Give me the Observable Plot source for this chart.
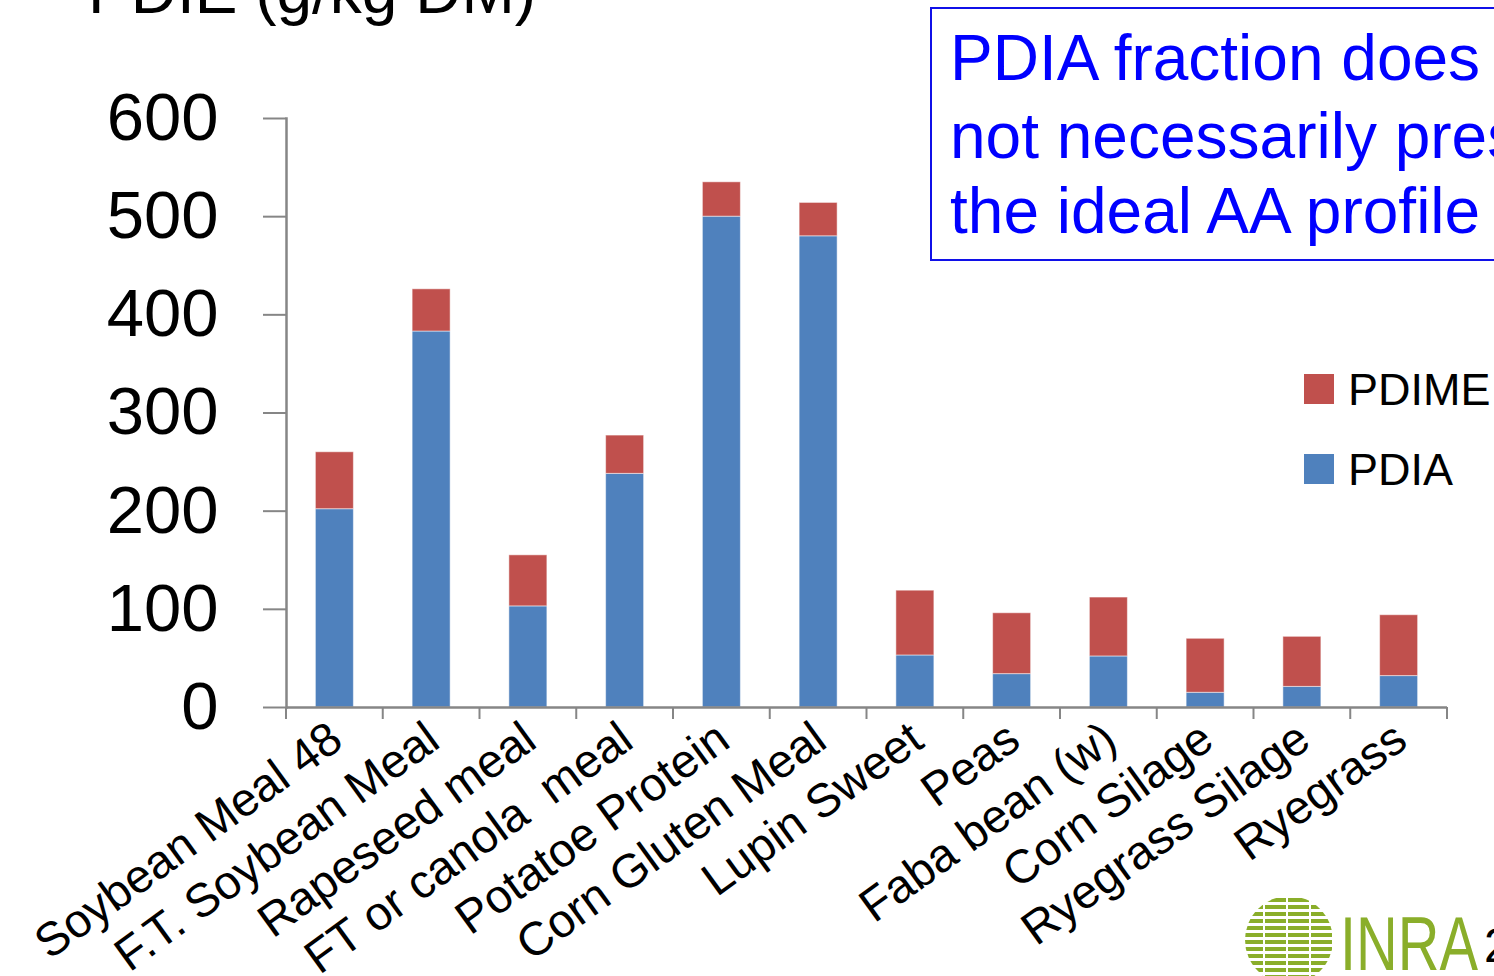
<!DOCTYPE html>
<html><head><meta charset="utf-8">
<script src="https://cdn.jsdelivr.net/npm/d3@7"></script>
<script src="https://cdn.jsdelivr.net/npm/@observablehq/plot@0.6"></script>
<style>
html,body{margin:0;padding:0;background:#fff;overflow:hidden;}
#wrap{position:relative;width:1494px;height:976px;overflow:hidden;font-family:"Liberation Sans",Arial,sans-serif;}
#chart,#overlay{position:absolute;left:0;top:0;}
#chart text{white-space:pre;}
</style></head>
<body><div id="wrap"><div id="chart"></div>
<svg id="overlay" width="1494" height="976" style="pointer-events:none;font-family:'Liberation Sans',Arial,sans-serif">
  <text x="88" y="13" font-size="64" fill="#000">PDIE (g/kg DM)</text>
  <rect x="931" y="8" width="620" height="252" fill="none" stroke="#1010e8" stroke-width="2"/>
  <g fill="#0000ff" font-size="64">
    <text x="950" y="80">PDIA fraction does</text>
    <text x="950" y="158">not necessarily present</text>
    <text x="950" y="233">the ideal AA profile</text>
  </g>
  <g id="legend" font-size="45" fill="#000"></g>
  <defs>
    <clipPath id="logoClip"><circle cx="1289" cy="940" r="44"/></clipPath>
    <pattern id="stripes" x="0" y="898" width="23" height="7" patternUnits="userSpaceOnUse">
      <rect x="0" y="0" width="21" height="4" fill="#8aae2a"/>
    </pattern>
  </defs>
  <g clip-path="url(#logoClip)">
    <rect x="1245" y="896" width="90" height="90" fill="url(#stripes)"/>
  </g>
  <text x="1340" y="970" font-size="76" fill="#8aae2a" textLength="138" lengthAdjust="spacingAndGlyphs">INRA</text>
  <text x="1484" y="962" font-size="48" fill="#000">2</text>
</svg>
</div>
<script>
const categories = ["Soybean Meal 48","F.T. Soybean Meal","Rapeseed meal","FT or canola  meal","Potatoe Protein","Corn Gluten Meal","Lupin Sweet","Peas","Faba bean (w)","Corn Silage","Ryegrass Silage","Ryegrass"];
const pdia  = [202, 383, 103, 238, 500, 480, 53, 34, 52, 15, 21, 32];
const pdime = [ 58,  43,  52,  39,  35,  34, 66, 62, 60, 55, 51, 62];
const series = ["PDIA", "PDIME"];
const seriesColors = ["#4F81BD", "#C0504D"];
const yTicks = [0, 100, 200, 300, 400, 500, 600];

const rows = categories.flatMap((c, i) => [
  {category: c, series: "PDIA", value: pdia[i]},
  {category: c, series: "PDIME", value: pdime[i]}
]);

const W = 1494, H = 976, mL = 286, mR = 47, mT = 118, mB = 269;
const bw = (W - mL - mR) / categories.length;
const barW = 38;

function boundaryTicks(index, scales, values, dimensions) {
  const g = d3.create("svg:g");
  const x0 = scales.x(categories[0]);
  const step = scales.x(categories[1]) - x0;
  const y0 = scales.y(0);
  const xs = categories.map(c => scales.x(c));
  xs.push(xs[xs.length - 1] + step);
  for (const x of xs) {
    g.append("line").attr("x1", x).attr("x2", x).attr("y1", y0).attr("y2", y0 + 12)
      .attr("stroke", "#868686").attr("stroke-width", 2);
  }
  return g.node();
}

const chart = Plot.plot({
  width: W, height: H,
  marginLeft: mL, marginRight: mR, marginTop: mT, marginBottom: mB,
  style: {fontFamily: "'Liberation Sans', Arial, sans-serif", background: "white", color: "black"},
  x: {domain: categories, padding: 0, round: false, axis: null},
  y: {domain: [0, 600], axis: null},
  color: {domain: series, range: seriesColors},
  marks: [
    Plot.barY(rows, {x: "category", y: "value", fill: "series", order: series,
      insetLeft: (bw - barW) / 2, insetRight: (bw - barW) / 2,
      stroke: "white", strokeOpacity: 0.5, strokeWidth: 1}),
    Plot.axisY({ticks: yTicks, tickSize: 23, tickPadding: 45, fontSize: 67,
      stroke: "#868686", strokeWidth: 2, fill: "black", label: null}),
    Plot.frame({anchor: "left", stroke: "#868686", strokeWidth: 2.5}),
    Plot.ruleY([0], {stroke: "#868686", strokeWidth: 2.5}),
    boundaryTicks,
    Plot.text(categories, {x: d => d, frameAnchor: "bottom", rotate: -36, textAnchor: "end",
      lineAnchor: "top", fontSize: 47, dx: -9, dy: 11, fill: "black"})
  ]
});
document.getElementById("chart").appendChild(chart);

const legend = d3.select("#legend");
const legendItems = [{name: "PDIME", color: seriesColors[1], y: 374}, {name: "PDIA", color: seriesColors[0], y: 454}];
for (const it of legendItems) {
  legend.append("rect").attr("x", 1304).attr("y", it.y).attr("width", 30).attr("height", 30).attr("fill", it.color);
  legend.append("text").attr("x", 1348).attr("y", it.y + 31).text(it.name);
}
</script>
</body></html>
